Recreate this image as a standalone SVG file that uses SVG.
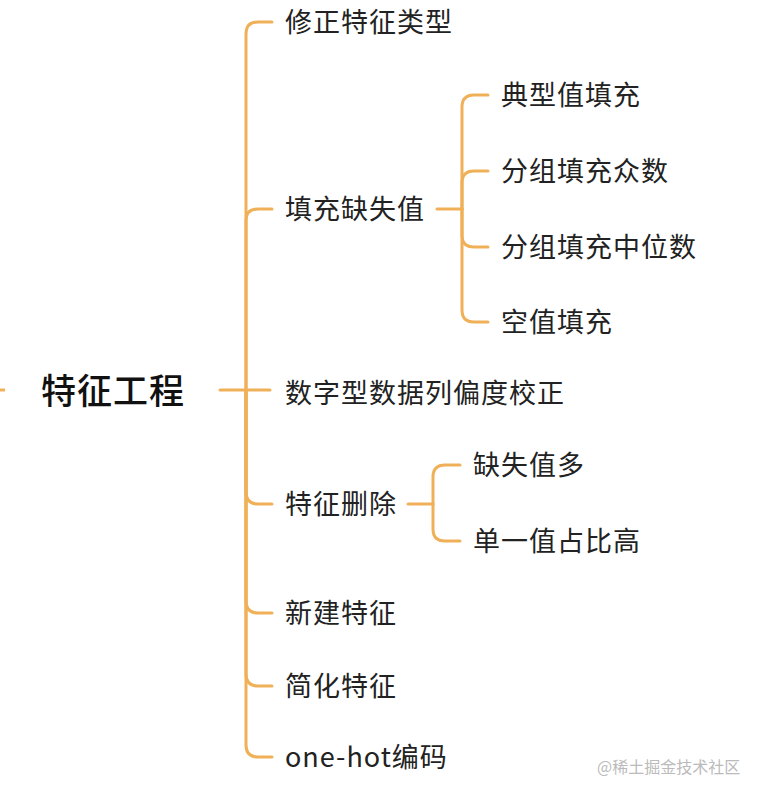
<svg xmlns="http://www.w3.org/2000/svg" width="760" height="798" viewBox="0 0 760 798">
<style>
.c{fill:none;stroke:#F0B058;stroke-width:3;stroke-linecap:round}
.t{font-family:"Noto Sans CJK SC","Noto Sans",sans-serif;font-size:27px;letter-spacing:1px;fill:#222;dominant-baseline:central}
.r{font-family:"Noto Sans CJK SC","Noto Sans",sans-serif;font-size:35px;letter-spacing:1px;font-weight:500;fill:#111;dominant-baseline:central}
.w{font-family:"Noto Sans CJK SC","Noto Sans",sans-serif;font-size:16px;fill:#bbb;dominant-baseline:central}
</style>
<rect width="760" height="798" fill="#fff"/>
<g id="connectors">
<path class="c" d="M0 390 H5" style="stroke-linecap:butt"/>
<path class="c" d="M220 390 H246"/>
<path class="c" d="M246 390 V34 Q246 22 258 22 H272"/>
<path class="c" d="M246 390 V221 Q246 209 258 209 H272"/>
<path class="c" d="M246 390 H270"/>
<path class="c" d="M246 390 V492 Q246 504 258 504 H272"/>
<path class="c" d="M246 390 V601 Q246 613 258 613 H272"/>
<path class="c" d="M246 390 V674 Q246 686 258 686 H272"/>
<path class="c" d="M246 390 V745 Q246 757 258 757 H272"/>
<path class="c" d="M437 209 H462"/>
<path class="c" d="M462 209 V107 Q462 95 474 95 H488"/>
<path class="c" d="M462 209 V183 Q462 171 474 171 H488"/>
<path class="c" d="M462 209 V235 Q462 247 474 247 H488"/>
<path class="c" d="M462 209 V310 Q462 322 474 322 H488"/>
<path class="c" d="M408 504 H433"/>
<path class="c" d="M433 504 V477 Q433 465 445 465 H460"/>
<path class="c" d="M433 504 V529 Q433 541 445 541 H460"/>
</g>
<g id="root"><text class="r" x="41" y="388">特征工程</text></g>
<g id="n1"><text class="t" x="285" y="20">修正特征类型</text></g>
<g id="n2"><text class="t" x="285" y="207">填充缺失值</text></g>
<g id="n2a"><text class="t" x="501" y="93">典型值填充</text></g>
<g id="n2b"><text class="t" x="501" y="169">分组填充众数</text></g>
<g id="n2c"><text class="t" x="501" y="245">分组填充中位数</text></g>
<g id="n2d"><text class="t" x="501" y="320">空值填充</text></g>
<g id="n3"><text class="t" x="285" y="391">数字型数据列偏度校正</text></g>
<g id="n4"><text class="t" x="285" y="502">特征删除</text></g>
<g id="n4a"><text class="t" x="473" y="463">缺失值多</text></g>
<g id="n4b"><text class="t" x="473" y="539">单一值占比高</text></g>
<g id="n5"><text class="t" x="285" y="611">新建特征</text></g>
<g id="n6"><text class="t" x="285" y="684">简化特征</text></g>
<g id="n7"><text class="t" x="285" y="755">one-hot编码</text></g>
<text class="w" x="597" y="766">@稀土掘金技术社区</text>
</svg>
